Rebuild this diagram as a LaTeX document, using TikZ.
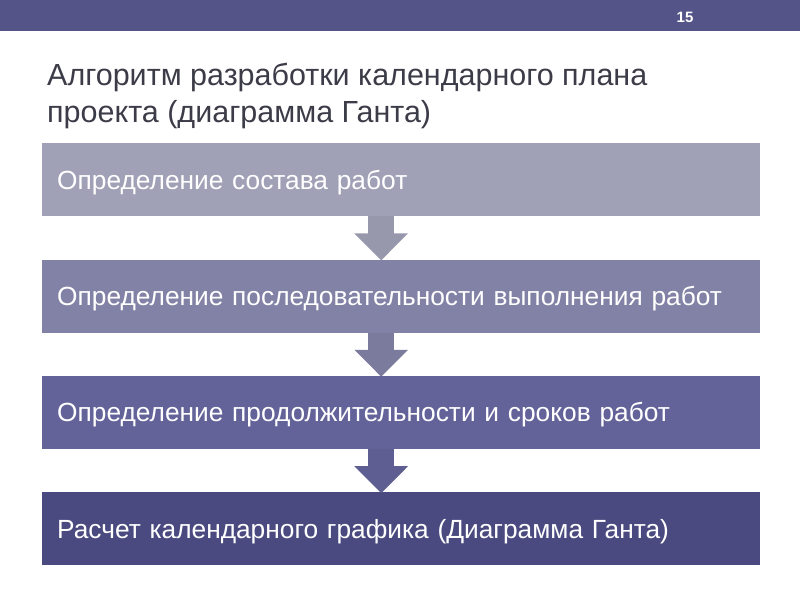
\documentclass[tikz,border=0pt]{standalone}
\usepackage{fontspec}
\setmainfont{Liberation Sans}
\usetikzlibrary{positioning,arrows.meta}

\definecolor{barcol}{HTML}{545488}
\definecolor{titlecol}{HTML}{3C3C48}
\definecolor{stepA}{HTML}{A0A0B6}
\definecolor{stepB}{HTML}{8282A6}
\definecolor{stepC}{HTML}{63639A}
\definecolor{stepD}{HTML}{4A4A80}

\tikzset{
  stepbox/.style={rectangle, minimum width=718pt, minimum height=73pt,
    text width=688pt, inner xsep=15pt, align=left, text=white,
    text height=20pt, text depth=1.2pt,
    font=\fontsize{26.3pt}{30pt}\selectfont},
  flow/.style={line width=26pt, -{Triangle[width=52pt,length=27pt]}}
}

\begin{document}
\begin{tikzpicture}[x=1pt,y=-1pt]
\useasboundingbox (0,0) rectangle (800,600);

% Header
  \fill[barcol] (0,0) rectangle (800,31);
  \node[text=white, font=\bfseries\fontsize{15pt}{17pt}\selectfont] (pagenum) at (685,17) {15};
  \node[anchor=north west, inner sep=0pt, text=titlecol, align=left,
        font=\fontsize{30.5pt}{37pt}\selectfont] (title) at (47,63)
        {Алгоритм разработки календарного плана\\проекта (диаграмма Ганта)};

% Nodes
  \node[stepbox, fill=stepA, anchor=north west] (compose) at (42,143) {Определение состава работ};
  \node[stepbox, fill=stepB, below=43pt of compose] (sequence) {Определение последовательности выполнения работ};
  \node[stepbox, fill=stepC, below=43pt of sequence] (duration) {Определение продолжительности и сроков работ};
  \node[stepbox, fill=stepD, below=43pt of duration] (gantt) {Расчет календарного графика (Диаграмма Ганта)};

% Edges
  \draw[flow, stepA!95!black] ([xshift=-20pt]compose.south)  -- ([xshift=-20pt,yshift=-1pt]sequence.north);
  \draw[flow, stepB!95!black] ([xshift=-20pt]sequence.south) -- ([xshift=-20pt,yshift=-1pt]duration.north);
  \draw[flow, stepC!95!black] ([xshift=-20pt]duration.south) -- ([xshift=-20pt,yshift=-1pt]gantt.north);

\end{tikzpicture}
\end{document}
